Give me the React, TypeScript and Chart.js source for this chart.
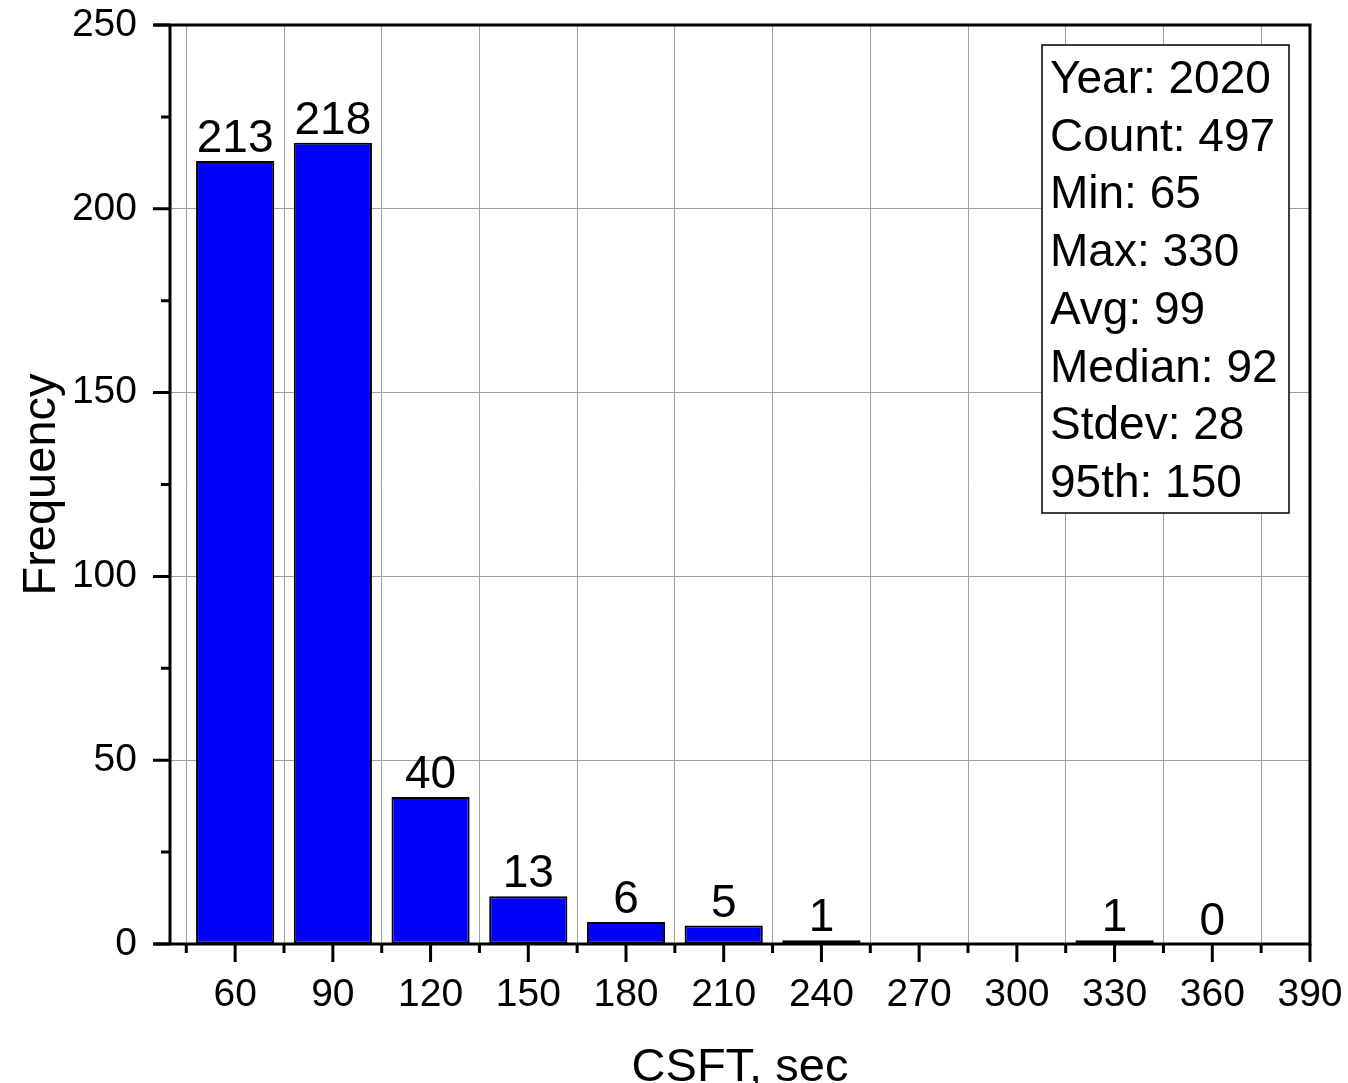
import React, { useEffect, useRef } from 'react';
import { Chart, registerables } from 'chart.js';

Chart.register(...registerables);

// ---- data ----
const binCenters = [60, 90, 120, 150, 180, 210, 240, 270, 300, 330, 360];
const frequencies: (number | null)[] = [213, 218, 40, 13, 6, 5, 1, null, null, 1, 0];
const xMajorTicks = [60, 90, 120, 150, 180, 210, 240, 270, 300, 330, 360, 390];
const xMinorTicks = [45, 75, 105, 135, 165, 195, 225, 255, 285, 315, 345, 375];
const yMajorTicks = [0, 50, 100, 150, 200, 250];
const yMinorTicks = [25, 75, 125, 175, 225];
const statsLines = [
  'Year: 2020',
  'Count: 497',
  'Min: 65',
  'Max: 330',
  'Avg: 99',
  'Median: 92',
  'Stdev: 28',
  '95th: 150',
];
const xTitle = 'CSFT, sec';
const yTitle = 'Frequency';

const FONT = '"Liberation Sans", Arial, Helvetica, sans-serif';

const decorPlugin = {
  id: 'decor',
  afterDatasetsDraw(chart: any) {
    const { ctx, chartArea: a, scales } = chart;
    const xs = scales.x;
    const ys = scales.y;
    ctx.save();

    // value labels above bars
    const meta = chart.getDatasetMeta(0);
    ctx.font = `46px ${FONT}`;
    ctx.fillStyle = '#000';
    ctx.textAlign = 'center';
    ctx.textBaseline = 'alphabetic';
    meta.data.forEach((el: any, i: number) => {
      const v = frequencies[i];
      if (v === null || v === undefined) return;
      ctx.fillText(String(v), el.x, el.y - 9);
    });

    // frame
    ctx.strokeStyle = '#000';
    ctx.lineWidth = 3;
    ctx.lineCap = 'butt';
    const ext = a.left - xs.getPixelForValue(35);
    ctx.beginPath();
    ctx.moveTo(a.left - ext, a.top);
    ctx.lineTo(a.right + 1.5, a.top);
    ctx.moveTo(a.left - ext, a.bottom);
    ctx.lineTo(a.right + 1.5, a.bottom);
    ctx.moveTo(a.left, a.top - 1.5);
    ctx.lineTo(a.left, a.bottom);
    ctx.moveTo(a.right, a.top - 1.5);
    ctx.lineTo(a.right, a.bottom + 1.5);
    ctx.stroke();

    // ticks
    ctx.beginPath();
    yMajorTicks.forEach((v) => {
      const p = ys.getPixelForValue(v);
      ctx.moveTo(a.left - 17, p);
      ctx.lineTo(a.left, p);
    });
    yMinorTicks.forEach((v) => {
      const p = ys.getPixelForValue(v);
      ctx.moveTo(a.left - 9, p);
      ctx.lineTo(a.left, p);
    });
    xMajorTicks.forEach((v) => {
      const p = xs.getPixelForValue(v);
      ctx.moveTo(p, a.bottom);
      ctx.lineTo(p, a.bottom + 18);
    });
    xMinorTicks.forEach((v) => {
      const p = xs.getPixelForValue(v);
      ctx.moveTo(p, a.bottom);
      ctx.lineTo(p, a.bottom + 9);
    });
    ctx.stroke();
    ctx.restore();
  },
  afterDraw(chart: any) {
    const { ctx } = chart;
    ctx.save();
    const bx = 1042, by = 45, bw = 247, bh = 468;
    ctx.fillStyle = '#fff';
    ctx.fillRect(bx, by, bw, bh);
    ctx.strokeStyle = '#000';
    ctx.lineWidth = 1.5;
    ctx.strokeRect(bx, by, bw, bh);
    ctx.font = `46px ${FONT}`;
    ctx.fillStyle = '#000';
    ctx.textAlign = 'left';
    ctx.textBaseline = 'alphabetic';
    statsLines.forEach((s, i) => {
      ctx.fillText(s, bx + 8, 93 + i * 57.7);
    });
    ctx.restore();
  },
};

const zeroPad = (scale: any) => {
  scale.paddingTop = 0;
  scale.paddingBottom = 0;
  scale.paddingLeft = 0;
  scale.paddingRight = 0;
};

export default function App() {
  const ref = useRef<HTMLCanvasElement | null>(null);

  useEffect(() => {
    if (!ref.current) return;
    document.body.style.margin = '0';
    Chart.defaults.font.family = FONT;
    const chart = new Chart(ref.current, {
      type: 'bar',
      data: {
        datasets: [
          {
            data: binCenters.map((x, i) => ({ x, y: frequencies[i] })) as any,
            backgroundColor: '#0000ff',
            borderColor: '#000',
            borderWidth: 2,
            borderSkipped: false,
            barPercentage: 0.8,
            categoryPercentage: 1,
          },
        ],
      },
      options: {
        responsive: false,
        animation: false,
        events: [],
        layout: { padding: { top: 25, right: 38, left: 0, bottom: 0 } },
        plugins: {
          legend: { display: false },
          tooltip: { enabled: false },
        },
        scales: {
          x: {
            type: 'linear',
            min: 40,
            max: 390,
            offset: false,
            afterBuildTicks: (scale: any) => {
              scale.ticks = xMajorTicks.map((v) => ({ value: v }));
            },
            afterFit: (scale: any) => {
              scale.height = 139;
              zeroPad(scale);
            },
            ticks: {
              autoSkip: false,
              maxRotation: 0,
              minRotation: 0,
              padding: 28,
              color: '#000',
              font: { size: 39, family: FONT },
              callback: (v: any) => String(v),
            },
            grid: {
              color: '#a0a0a0',
              lineWidth: 1,
              drawTicks: false,
            },
            border: { display: false },
            title: {
              display: true,
              text: xTitle,
              color: '#000',
              font: { size: 47, family: FONT, lineHeight: 1 },
              padding: { top: 0, bottom: -8.5 },
            },
          },
          y: {
            type: 'linear',
            min: 0,
            max: 250,
            afterBuildTicks: (scale: any) => {
              scale.ticks = yMajorTicks.map((v) => ({ value: v }));
            },
            afterFit: (scale: any) => {
              scale.width = 170;
              zeroPad(scale);
            },
            ticks: {
              autoSkip: false,
              padding: 33,
              color: '#000',
              font: { size: 39, family: FONT },
              callback: (v: any) => String(v),
            },
            grid: {
              color: '#a0a0a0',
              lineWidth: 1,
              drawTicks: false,
            },
            border: { display: false },
            title: {
              display: true,
              text: yTitle,
              color: '#000',
              font: { size: 47, family: FONT, lineHeight: 1 },
              padding: { top: 18.5, bottom: 0 },
            },
          },
        },
      },
      plugins: [decorPlugin],
    });
    return () => chart.destroy();
  }, []);

  return (
    <div style={{ position: 'absolute', left: 0, top: 0, width: 1348, height: 1083, background: '#fff' }}>
      <canvas ref={ref} width={1348} height={1083} style={{ display: 'block' }} />
    </div>
  );
}
